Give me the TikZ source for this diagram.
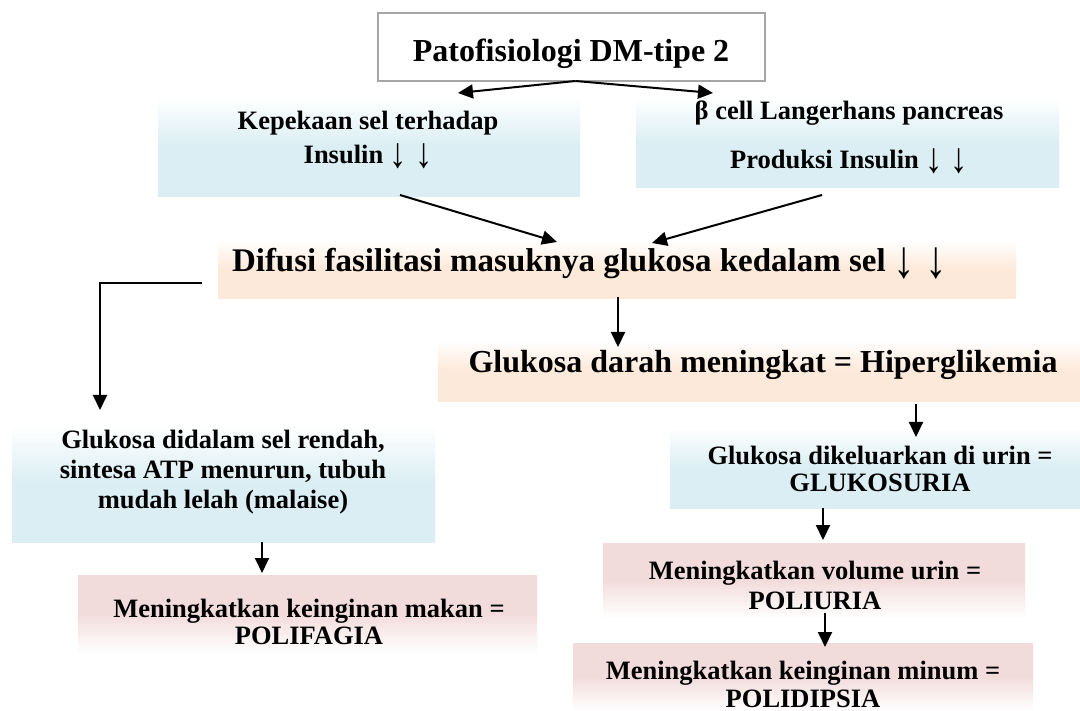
\documentclass[tikz,border=0pt]{standalone}
\usepackage{fontspec}
\usepackage{graphicx}
\setmainfont{Liberation Serif}
\usetikzlibrary{arrows.meta,calc}

\definecolor{blueC}{HTML}{DAEEF3}
\definecolor{peachC}{HTML}{FDE9D9}
\definecolor{pinkC}{HTML}{F2DCDB}
\definecolor{frameC}{HTML}{A6A6A6}

% vertical fades (stops listed bottom to top; 25bp..75bp spans the box)
\pgfdeclareverticalshading{bluefade}{100bp}{color(0bp)=(blueC); color(25bp)=(blueC); color(50bp)=(blueC); color(75bp)=(white); color(100bp)=(white)}
\pgfdeclareverticalshading{peachfade}{100bp}{color(0bp)=(peachC); color(25bp)=(peachC); color(50bp)=(peachC); color(75bp)=(white); color(100bp)=(white)}
\pgfdeclareverticalshading{pinkfade}{100bp}{color(0bp)=(white); color(25bp)=(white); color(50bp)=(pinkC); color(75bp)=(pinkC); color(100bp)=(pinkC)}

\newcommand\fHead{\fontsize{32}{38}\selectfont\bfseries}
\newcommand\fWide{\fontsize{33}{38}\selectfont\bfseries}
% thin, tall downward arrow used as "decreases"
\newcommand\darr{\raisebox{-0.17em}{\scalebox{1.3}[1.6]{\mdseries ↓}}}
\newcommand\dd{\hspace{0.25em}\darr\hspace{0.3em}\darr}

\begin{document}
\begin{tikzpicture}[x=1pt,y=-1pt,
  every node/.style={inner sep=0pt, outer sep=0pt},
  titlebox/.style={draw=frameC, line width=1.2pt, fill=white},
  bluebox/.style={shade, shading=bluefade},
  peachbox/.style={shade, shading=peachfade},
  pinkbox/.style={shade, shading=pinkfade},
  txt/.style={align=center, text=black},
  conn/.style={-{Triangle[length=15pt,width=14pt]}, line width=2pt, black}]

\fill[white] (0,0) rectangle (1080,711);
\path[use as bounding box] (0,0) rectangle (1080,711);

% panels
\node[titlebox, minimum width=387pt, minimum height=68pt] (title) at (571.5,47) {};
\node[bluebox, minimum width=422pt, minimum height=100pt] (kep) at (369,147) {};
\node[bluebox, minimum width=423pt, minimum height=90pt] (bcell) at (847.5,143) {};
\node[peachbox, minimum width=798pt, minimum height=59pt] (dif) at (617,269.5) {};
\node[peachbox, minimum width=642pt, minimum height=62pt] (gd) at (759,371) {};
\node[bluebox, minimum width=423pt, minimum height=117pt] (mal) at (223.5,483.5) {};
\node[pinkbox, minimum width=459pt, minimum height=78pt] (pfg) at (307.5,614) {};
\node[bluebox, minimum width=410pt, minimum height=80pt] (glk) at (875,468) {};
\node[pinkbox, minimum width=422pt, minimum height=75pt] (pur) at (814,580.5) {};
\node[pinkbox, minimum width=460pt, minimum height=68pt] (pdp) at (803,677) {};

% texts
\node[txt, font=\fHead, anchor=base] (titleT) at (571,62) {Patofisiologi DM-tipe 2};
\node[txt, font=\fontsize{26.5}{34}\selectfont\bfseries] (kepT) at (368,140)
  {Kepekaan sel terhadap\\Insulin\dd};
\node[txt, font=\fontsize{26.5}{49}\selectfont\bfseries] (bcellT) at (849,137.5)
  {β cell Langerhans pancreas\\Produksi Insulin\dd};
\node[txt, font=\fWide, anchor=base west] (difT) at (232,272)
  {Difusi fasilitasi masuknya glukosa kedalam sel\dd};
\node[txt, font=\fHead, anchor=base] (gdT) at (763,373)
  {Glukosa darah meningkat = Hiperglikemia};
\node[txt, font=\fontsize{26.5}{30}\selectfont\bfseries] (malT) at (223,472)
  {Glukosa didalam sel rendah,\\sintesa ATP menurun, tubuh\\mudah lelah (malaise)};
\node[txt, font=\fontsize{26.5}{27}\selectfont\bfseries] (pfgT) at (309,621.5)
  {Meningkatkan keinginan makan =\\POLIFAGIA};
\node[txt, font=\fontsize{26.5}{27}\selectfont\bfseries] (glkT) at (880,468.5)
  {Glukosa dikeluarkan di urin =\\GLUKOSURIA};
\node[txt, font=\fontsize{26.5}{30}\selectfont\bfseries] (purT) at (815,585)
  {Meningkatkan volume urin =\\POLIURIA};
\node[txt, font=\fontsize{26.5}{28}\selectfont\bfseries] (pdpT) at (803,684)
  {Meningkatkan keinginan minum =\\POLIDIPSIA};

% connectors
\draw[conn] ($(title.south)+(4,0)$) -- ($(kep.north)+(89,-4)$);
\draw[conn] ($(title.south)+(4,0)$) -- ($(bcell.north)+(-134.5,-5)$);
\draw[conn] ($(kep.south)+(31,-2)$) -- ($(dif.north)+(-60,2)$);
\draw[conn] ($(bcell.south)+(-25.5,7)$) -- ($(dif.north)+(35,3)$);
\draw[conn] ($(dif.south)+(1,-2)$) -- ($(gd.north)+(-141,7)$);
\draw[conn] ($(dif.west)+(-16,13.5)$) -| ($(mal.north)+(-123.5,-15)$);
\draw[conn] ($(gd.south)+(157,2)$) -- ($(glk.north)+(41,9)$);
\draw[conn] ($(mal.south)+(38.5,0)$) -- ($(pfg.north)+(-45.5,-2)$);
\draw[conn] ($(glk.south)+(-52,0)$) -- ($(pur.north)+(9,-3)$);
\draw[conn] ($(pur.south)+(11,-5)$) -- ($(pdp.north)+(22,4)$);
\end{tikzpicture}
\end{document}
